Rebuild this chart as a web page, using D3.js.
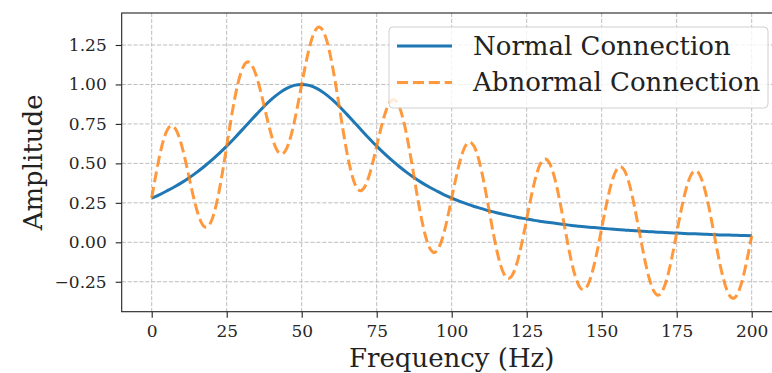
<!DOCTYPE html>
<html>
<head>
<meta charset="utf-8">
<script src="https://cdn.jsdelivr.net/npm/d3@7"></script>
<style>
  body { margin: 0; background: #fff; }
  svg { display: block; font-family: "DejaVu Serif", serif; }
</style>
</head>
<body>
<div id="chart"></div>
<script>
// values
const freqs = [
  0, 2.5, 5, 7.5, 10, 12.5, 15, 17.5, 20, 22.5,
  25, 27.5, 30, 32.5, 35, 37.5, 40, 42.5, 45, 47.5,
  50, 52.5, 55, 57.5, 60, 62.5, 65, 67.5, 70, 72.5,
  75, 77.5, 80, 82.5, 85, 87.5, 90, 92.5, 95, 97.5,
  100, 102.5, 105, 107.5, 110, 112.5, 115, 117.5, 120, 122.5,
  125, 127.5, 130, 132.5, 135, 137.5, 140, 142.5, 145, 147.5,
  150, 152.5, 155, 157.5, 160, 162.5, 165, 167.5, 170, 172.5,
  175, 177.5, 180, 182.5, 185, 187.5, 190, 192.5, 195, 197.5,
  200
];

const normalAmp = [
  0.280, 0.301, 0.325, 0.350, 0.378, 0.409, 0.443, 0.480, 0.520, 0.563,
  0.609, 0.658, 0.709, 0.761, 0.812, 0.862, 0.907, 0.945, 0.975, 0.994,
  1.000, 0.994, 0.975, 0.945, 0.907, 0.862, 0.812, 0.761, 0.709, 0.658,
  0.609, 0.563, 0.520, 0.480, 0.443, 0.409, 0.378, 0.350, 0.325, 0.301,
  0.280, 0.261, 0.243, 0.227, 0.213, 0.199, 0.187, 0.176, 0.166, 0.156,
  0.148, 0.139, 0.132, 0.125, 0.119, 0.113, 0.107, 0.102, 0.097, 0.093,
  0.089, 0.085, 0.081, 0.078, 0.074, 0.071, 0.069, 0.066, 0.063, 0.061,
  0.059, 0.056, 0.054, 0.053, 0.051, 0.049, 0.047, 0.046, 0.044, 0.043,
  0.041
];

const abnormalAmp = [
  0.280, 0.536, 0.705, 0.730, 0.613, 0.409, 0.208, 0.100, 0.140, 0.328,
  0.609, 0.893, 1.089, 1.141, 1.047, 0.862, 0.672, 0.565, 0.595, 0.759,
  1.000, 1.229, 1.355, 1.325, 1.142, 0.862, 0.577, 0.381, 0.329, 0.423,
  0.609, 0.798, 0.900, 0.860, 0.678, 0.409, 0.143, -0.030, -0.055, 0.066,
  0.280, 0.496, 0.623, 0.607, 0.448, 0.199, -0.048, -0.204, -0.214, -0.079,
  0.148, 0.374, 0.512, 0.505, 0.354, 0.113, -0.128, -0.278, -0.283, -0.142,
  0.089, 0.320, 0.461, 0.458, 0.309, 0.071, -0.166, -0.314, -0.317, -0.174,
  0.059, 0.291, 0.434, 0.433, 0.286, 0.049, -0.188, -0.334, -0.336, -0.192,
  0.041
];

const xTicks = [0, 25, 50, 75, 100, 125, 150, 175, 200];
const yTicks = [-0.25, 0, 0.25, 0.5, 0.75, 1.0, 1.25];
const legendLabels = ["Normal Connection", "Abnormal Connection"];

const width = 772, height = 373;
const plot = { left: 121.7, right: 781.7, top: 13, bottom: 311.7 };

let xScale = d3.scaleLinear().domain([-10, 210]).range([plot.left, plot.right]);
let yScale = d3.scaleLinear().domain([-0.4397, 1.4527]).range([plot.bottom, plot.top]);

let svg = d3.select("#chart").append("svg")
  .attr("width", width)
  .attr("height", height);

svg.append("clipPath").attr("id", "clip")
  .append("rect")
  .attr("x", plot.left).attr("y", plot.top)
  .attr("width", plot.right - plot.left).attr("height", plot.bottom - plot.top);

// grid
let grid = svg.append("g")
  .attr("stroke", "#bdbdbd")
  .attr("stroke-width", 1)
  .attr("stroke-dasharray", "4.1,1.8");

grid.selectAll(".gx").data(xTicks).enter().append("line")
  .attr("x1", d => xScale(d)).attr("x2", d => xScale(d))
  .attr("y1", plot.top).attr("y2", plot.bottom);

grid.selectAll(".gy").data(yTicks).enter().append("line")
  .attr("x1", plot.left).attr("x2", plot.right)
  .attr("y1", d => yScale(d)).attr("y2", d => yScale(d));

// lines
let line = d3.line()
  .curve(d3.curveNatural)
  .x((d, i) => xScale(freqs[i]))
  .y(d => yScale(d));

let lines = svg.append("g").attr("clip-path", "url(#clip)");

lines.append("path")
  .attr("d", line(normalAmp))
  .attr("fill", "none")
  .attr("stroke", "#1f77b4")
  .attr("stroke-width", 3);

lines.append("path")
  .attr("d", line(abnormalAmp))
  .attr("fill", "none")
  .attr("stroke", "#ff7f0e")
  .attr("stroke-opacity", 0.8)
  .attr("stroke-width", 3)
  .attr("stroke-dasharray", "11.1,4.8");

// axes
let xAxis = d3.axisBottom(xScale).tickValues(xTicks).tickSize(6).tickPadding(7.5).tickFormat(d3.format("d"));
let yAxis = d3.axisLeft(yScale).tickValues(yTicks).tickSize(6).tickPadding(9).tickFormat(d3.format(".2f"));

let gx = svg.append("g")
  .attr("transform", "translate(0," + plot.bottom + ")")
  .call(xAxis);
let gy = svg.append("g")
  .attr("transform", "translate(" + plot.left + ",0)")
  .call(yAxis);

[gx, gy].forEach(g => {
  g.select(".domain").remove();
  g.selectAll(".tick line").attr("stroke", "#222").attr("stroke-width", 1.1);
  g.selectAll(".tick text")
    .attr("fill", "#262626")
    .style("font-family", "DejaVu Serif, serif")
    .style("font-size", "17px");
});

// spines
svg.append("rect")
  .attr("x", plot.left).attr("y", plot.top)
  .attr("width", plot.right - plot.left).attr("height", plot.bottom - plot.top)
  .attr("fill", "none")
  .attr("stroke", "#222")
  .attr("stroke-width", 1.1);

// axis labels
svg.append("text")
  .attr("x", (plot.left + plot.right) / 2)
  .attr("y", 367)
  .attr("text-anchor", "middle")
  .attr("fill", "#222")
  .style("font-size", "26px")
  .text("Frequency (Hz)");

svg.append("text")
  .attr("transform", "translate(42," + ((plot.top + plot.bottom) / 2) + ") rotate(-90)")
  .attr("text-anchor", "middle")
  .attr("fill", "#222")
  .style("font-size", "26px")
  .text("Amplitude");

// legend
let legend = svg.append("g");
legend.append("rect")
  .attr("x", 389).attr("y", 27)
  .attr("width", 379).attr("height", 81)
  .attr("rx", 4)
  .attr("fill", "#fff").attr("fill-opacity", 0.8)
  .attr("stroke", "#d0d0d0").attr("stroke-width", 1);

let legendStyles = [
  { color: "#1f77b4", dash: null, opacity: 1 },
  { color: "#ff7f0e", dash: "11.1,4.8", opacity: 0.8 }
];

let items = legend.selectAll(".legend")
  .data(legendLabels)
  .enter()
  .append("g")
  .attr("class", "legend")
  .attr("transform", (d, i) => "translate(397," + (46 + i * 36.5) + ")");

items.append("line")
  .attr("x1", 0).attr("x2", 55)
  .attr("stroke", (d, i) => legendStyles[i].color)
  .attr("stroke-opacity", (d, i) => legendStyles[i].opacity)
  .attr("stroke-width", 3)
  .attr("stroke-dasharray", (d, i) => legendStyles[i].dash);

items.append("text")
  .attr("x", 76)
  .attr("y", 8.5)
  .attr("fill", "#222")
  .style("font-size", "26px")
  .text(d => d);
</script>
</body>
</html>
